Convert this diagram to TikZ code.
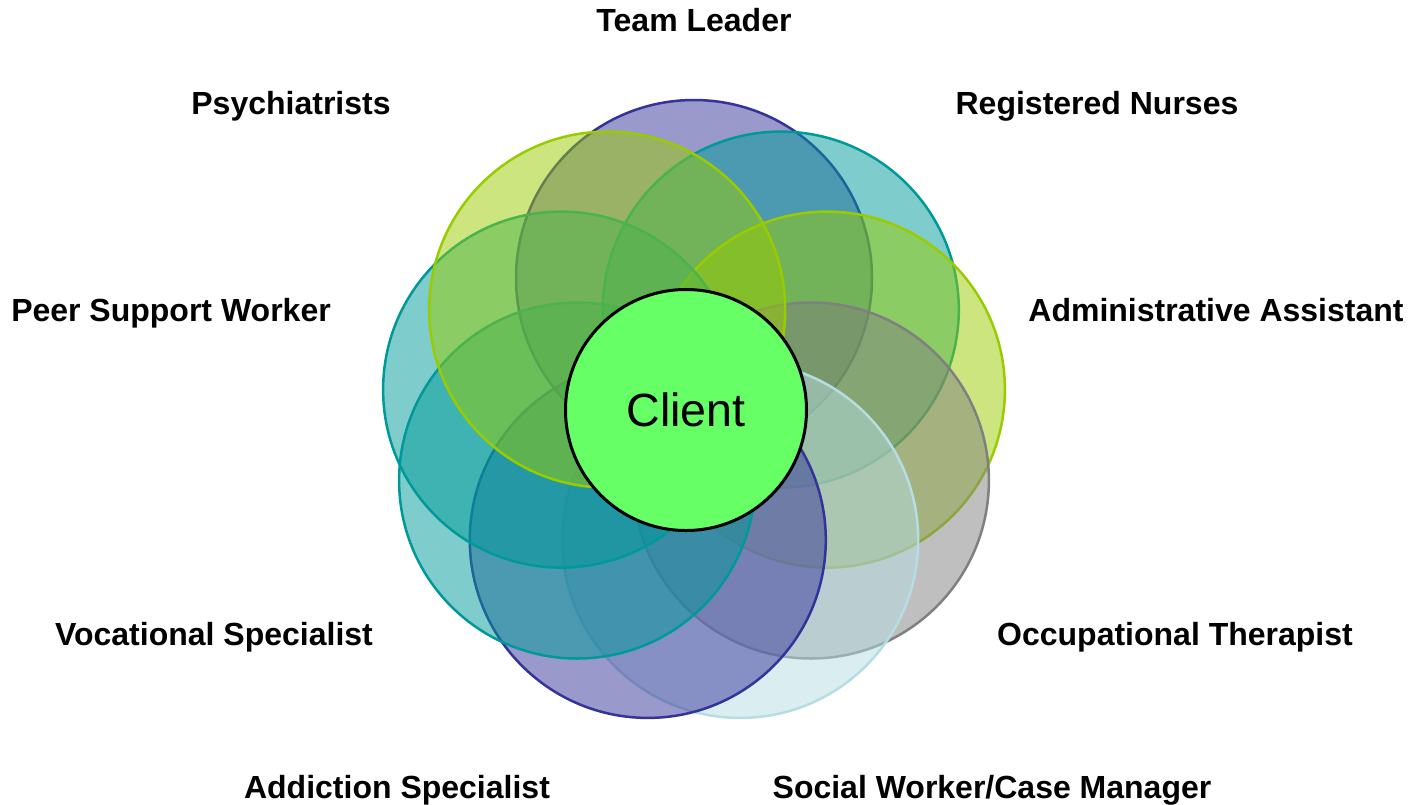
\documentclass[tikz,border=0pt]{standalone}
\usepackage{fontspec}
\setmainfont{Liberation Sans}
\definecolor{navy}{HTML}{333399}
\definecolor{tealc}{HTML}{009999}
\definecolor{limec}{HTML}{99CC00}
\definecolor{greyc}{HTML}{808080}
\definecolor{aquac}{HTML}{B5DDE3}
\definecolor{clientg}{HTML}{66FF66}
\begin{document}
\begin{tikzpicture}[x=0.5pt,y=-0.5pt,
  role/.style={circle,inner sep=0pt,outer sep=0pt,minimum size=178pt,line width=1.25pt,
    draw=#1,fill=#1,fill opacity=0.5,draw opacity=1},
  lbl/.style={font=\fontsize{16}{19}\selectfont\bfseries,anchor=base,inner sep=0pt},
  client/.style={circle,inner sep=0pt,minimum size=120.5pt,line width=1.5pt,
    draw=black,fill=clientg,font=\fontsize{23.3}{28}\selectfont}]
\useasboundingbox (0,0) rectangle (1414,804);
% team roles arranged clockwise from the top, each drawn over the previous one
\node[role=navy]  (tl)  at (694.0,278.0) {};
\node[role=tealc] (rn)  at (780.8,309.6) {};
\node[role=limec] (aa)  at (826.9,389.6) {};
\node[role=greyc] (ot)  at (810.9,480.5) {};
\node[role=aquac] (sw)  at (740.2,539.9) {};
\node[role=navy]  (as)  at (647.8,539.9) {};
\node[role=tealc] (vs)  at (577.1,480.5) {};
\node[role=tealc] (ps)  at (561.1,389.6) {};
\node[role=limec] (py)  at (607.2,309.6) {};
% the client at the centre
\node[client] (client) at (686,410) {\raisebox{-1.5pt}{Client}};
% role names
\node[lbl] (ltl) at (694,31)   {Team Leader};
\node[lbl] (lrn) at (1097,114) {Registered Nurses};
\node[lbl] (laa) at (1216,321) {Administrative Assistant};
\node[lbl] (lot) at (1175,645) {Occupational Therapist};
\node[lbl] (lsw) at (992,798)  {Social Worker/Case Manager};
\node[lbl] (las) at (397,798)  {Addiction Specialist};
\node[lbl] (lvs) at (214,645)  {Vocational Specialist};
\node[lbl] (lps) at (171,321)  {Peer Support Worker};
\node[lbl] (lpy) at (291,114)  {Psychiatrists};
\end{tikzpicture}
\end{document}
